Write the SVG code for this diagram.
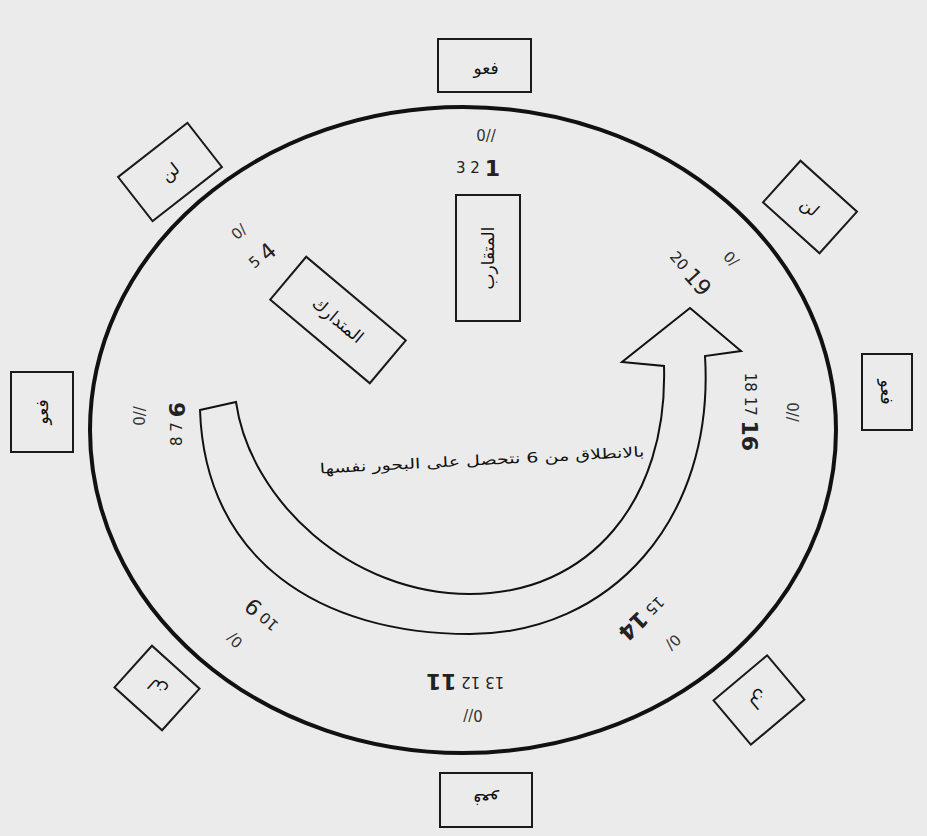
<svg xmlns="http://www.w3.org/2000/svg" width="927" height="836" viewBox="0 0 927 836">
<style>
.bx{fill:none;stroke:#1a1a1a;stroke-width:2}
.ar{font-family:"DejaVu Sans",sans-serif;font-size:17px;fill:#111;text-anchor:middle;dominant-baseline:central}
.num{font-family:"DejaVu Sans","Liberation Sans",sans-serif;font-size:15px;fill:#222;text-anchor:middle;dominant-baseline:central}
.big{font-size:22px;font-weight:bold}
.mk{font-family:"DejaVu Sans","Liberation Sans",sans-serif;font-size:15px;fill:#333;text-anchor:middle;dominant-baseline:central}
</style>
<rect width="927" height="836" fill="#ebebeb"/>
<g id="circle"><ellipse cx="463" cy="430" rx="373" ry="323" fill="none" stroke="#111" stroke-width="4"/></g>

<g id="connectors">
<path d="M200,410 L236,402 C250,500 350,594 470,594 C590,594 668,500 664,366 L622,362 L690,308 L741,351 L705,356 C715,520 610,634 470,634 C320,634 205,560 200,410 Z" fill="none" stroke="#111" stroke-width="2"/>
</g>

<g id="box-top"><rect class="bx" x="438" y="39" width="93" height="53"/><text class="ar" x="486" y="68">فعو</text></g>
<g id="box-topright" transform="translate(810,207) rotate(42)"><rect class="bx" x="-38" y="-28" width="76" height="56"/><text class="ar" x="0" y="0">لن</text></g>
<g id="box-right" transform="translate(887,392) rotate(90)"><rect class="bx" x="-38" y="-25" width="76" height="50"/><text class="ar" x="0" y="0">فعو</text></g>
<g id="box-bottomright" transform="translate(759,700) rotate(140)"><rect class="bx" x="-35" y="-29" width="70" height="58"/><text class="ar" x="0" y="0">لن</text></g>
<g id="box-bottom" transform="translate(486,800) rotate(180)"><rect class="bx" x="-46" y="-27" width="92" height="54"/><text class="ar" x="0" y="0">فعو</text></g>
<g id="box-bottomleft" transform="translate(157,688) rotate(222)"><rect class="bx" x="-32" y="-28" width="64" height="56"/><text class="ar" x="0" y="0">لن</text></g>
<g id="box-left" transform="translate(42,412) rotate(-90)"><rect class="bx" x="-40" y="-31" width="80" height="62"/><text class="ar" x="0" y="0">فعو</text></g>
<g id="box-topleft" transform="translate(170,172) rotate(-38)"><rect class="bx" x="-44" y="-28" width="88" height="56"/><text class="ar" x="0" y="0">لن</text></g>

<g id="box-mutaqarib" transform="translate(488,258) rotate(-90)"><rect class="bx" x="-63" y="-32" width="126" height="64"/><text class="ar" x="0" y="0">المتقارب</text></g>
<g id="box-mutadarik" transform="translate(338,320) rotate(40)"><rect class="bx" x="-65" y="-28" width="130" height="56"/><text class="ar" x="0" y="0">المتدارك</text></g>

<g id="labels">
<text class="mk" x="486" y="136">0//</text>
<text class="num" x="478" y="168">3 2 <tspan class="big">1</tspan></text>
<text class="mk" transform="translate(239,232) rotate(-42)">0/</text>
<text class="num" transform="translate(262,256) rotate(-40)">5 <tspan class="big" style="font-weight:normal">4</tspan></text>
<text class="mk" transform="translate(731,259) rotate(45)">0/</text>
<text class="num" transform="translate(690,273) rotate(48)">20 <tspan class="big" style="font-weight:normal">19</tspan></text>
<text class="mk" transform="translate(792,412) rotate(90)">0//</text>
<text class="num" transform="translate(750,412) rotate(90)">18 17 <tspan class="big">16</tspan></text>
<text class="mk" transform="translate(140,416) rotate(-90)">0//</text>
<text class="num" transform="translate(177,424) rotate(-90)">8 7 <tspan class="big">6</tspan></text>
<text class="num" transform="translate(262,615) rotate(222)">10 <tspan class="big" style="font-weight:normal">9</tspan></text>
<text class="mk" transform="translate(235,640) rotate(222)">0/</text>
<text class="num" transform="translate(465,682) rotate(180)">13 12 <tspan class="big">11</tspan></text>
<text class="mk" transform="translate(473,715) rotate(180)">0//</text>
<text class="num" transform="translate(642,618) rotate(136)">15 <tspan class="big">14</tspan></text>
<text class="mk" transform="translate(673,642) rotate(136)">0/</text>
<text class="ar" style="font-size:14px" transform="translate(482,460) rotate(-3)" textLength="325" lengthAdjust="spacingAndGlyphs">بالانطلاق من 6 نتحصل على البحور نفسها</text>
</g>
</svg>
